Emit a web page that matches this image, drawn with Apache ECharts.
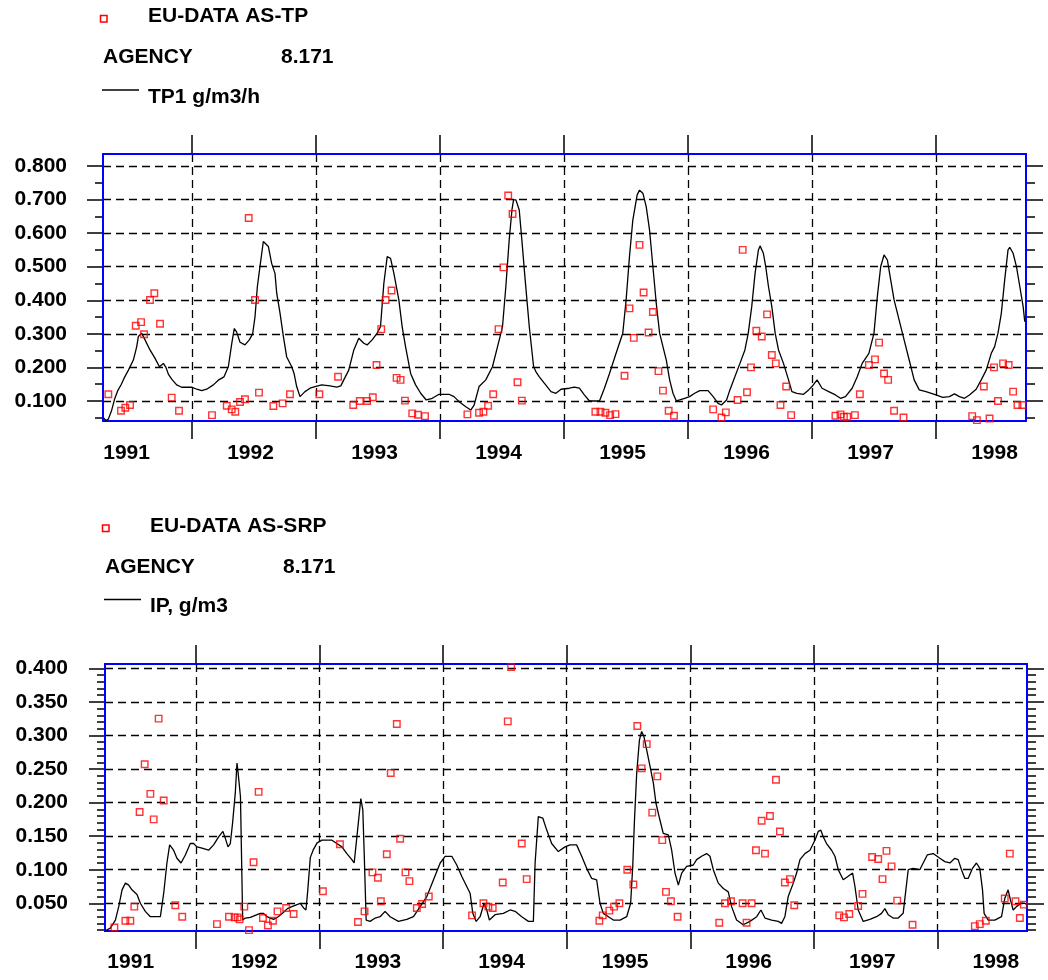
<!DOCTYPE html>
<html>
<head>
<meta charset="utf-8">
<script src="https://cdn.jsdelivr.net/npm/echarts@6/dist/echarts.min.js"></script>
<style>
html,body{margin:0;padding:0;background:#fff;}
#chart{width:1048px;height:980px;}
</style>
</head>
<body>
<div id="chart"></div>
<script>
// ---------- axis ticks / labels ----------
const yearTicks = [1992, 1993, 1994, 1995, 1996, 1997, 1998];
const yearLabelPos = [1991.472, 1992.472, 1993.472, 1994.472, 1995.472, 1996.472, 1997.472, 1998.472];
const tpMajor = [0.1, 0.2, 0.3, 0.4, 0.5, 0.6, 0.7, 0.8];
const tpMinor = [0.05, 0.15, 0.25, 0.35, 0.45, 0.55, 0.65, 0.75];
const ipMajor = [0.05, 0.10, 0.15, 0.20, 0.25, 0.30, 0.35, 0.40];
const ipMinor = [0.01, 0.02, 0.03, 0.04, 0.06, 0.07, 0.08, 0.09, 0.11, 0.12, 0.13, 0.14,
  0.16, 0.17, 0.18, 0.19, 0.21, 0.22, 0.23, 0.24, 0.26, 0.27, 0.28, 0.29,
  0.31, 0.32, 0.33, 0.34, 0.36, 0.37, 0.38, 0.39];

// ---------- series: TP (top panel) ----------
const tpModel = [
  [1991.285,0.050],[1991.305,0.042],[1991.325,0.046],[1991.350,0.070],[1991.375,0.105],[1991.400,0.130],
  [1991.430,0.150],[1991.452,0.168],[1991.487,0.192],[1991.527,0.222],[1991.554,0.262],[1991.567,0.292],
  [1991.594,0.302],[1991.621,0.282],[1991.661,0.252],[1991.702,0.227],[1991.737,0.202],[1991.769,0.212],
  [1991.790,0.200],[1991.809,0.180],[1991.836,0.165],[1991.876,0.148],[1991.917,0.141],[1991.997,0.141],
  [1992.038,0.135],[1992.078,0.131],[1992.118,0.135],[1992.172,0.148],[1992.212,0.162],[1992.258,0.172],
  [1992.293,0.202],[1992.320,0.270],[1992.341,0.316],[1992.360,0.305],[1992.387,0.275],[1992.427,0.267],
  [1992.462,0.282],[1992.489,0.300],[1992.508,0.351],[1992.527,0.441],[1992.548,0.500],[1992.575,0.575],
  [1992.589,0.580],[1992.616,0.560],[1992.642,0.510],[1992.669,0.480],[1992.683,0.421],[1992.710,0.361],
  [1992.737,0.292],[1992.763,0.232],[1992.804,0.202],[1992.823,0.182],[1992.844,0.143],[1992.871,0.113],
  [1992.911,0.128],[1992.952,0.138],[1992.992,0.143],[1993.046,0.148],[1993.113,0.145],[1993.167,0.141],
  [1993.200,0.145],[1993.224,0.163],[1993.264,0.192],[1993.305,0.252],[1993.345,0.287],[1993.385,0.272],
  [1993.412,0.267],[1993.453,0.282],[1993.493,0.302],[1993.520,0.321],[1993.547,0.450],[1993.574,0.530],
  [1993.601,0.525],[1993.628,0.480],[1993.668,0.401],[1993.695,0.321],[1993.722,0.262],[1993.763,0.182],
  [1993.803,0.148],[1993.844,0.123],[1993.889,0.103],[1993.938,0.108],[1993.992,0.120],[1994.073,0.120],
  [1994.113,0.113],[1994.154,0.098],[1994.208,0.083],[1994.248,0.073],[1994.275,0.088],[1994.315,0.143],
  [1994.369,0.163],[1994.423,0.202],[1994.464,0.262],[1994.504,0.321],[1994.531,0.441],[1994.558,0.580],
  [1994.580,0.669],[1994.593,0.699],[1994.612,0.699],[1994.639,0.669],[1994.660,0.580],[1994.687,0.460],
  [1994.720,0.321],[1994.755,0.202],[1994.774,0.187],[1994.801,0.172],[1994.841,0.153],[1994.895,0.128],
  [1994.935,0.123],[1994.976,0.135],[1995.043,0.138],[1995.084,0.141],[1995.124,0.138],[1995.164,0.118],
  [1995.205,0.100],[1995.245,0.100],[1995.286,0.100],[1995.326,0.138],[1995.367,0.182],[1995.420,0.242],
  [1995.474,0.302],[1995.501,0.401],[1995.528,0.530],[1995.555,0.639],[1995.590,0.714],[1995.609,0.728],
  [1995.636,0.719],[1995.663,0.679],[1995.690,0.609],[1995.717,0.500],[1995.744,0.391],[1995.771,0.302],
  [1995.798,0.262],[1995.825,0.222],[1995.852,0.163],[1995.879,0.123],[1995.906,0.100],[1995.933,0.103],
  [1995.973,0.108],[1996.013,0.113],[1996.054,0.123],[1996.095,0.131],[1996.162,0.131],[1996.203,0.113],
  [1996.243,0.093],[1996.270,0.088],[1996.311,0.103],[1996.338,0.133],[1996.378,0.172],[1996.419,0.212],
  [1996.459,0.252],[1996.486,0.302],[1996.514,0.381],[1996.541,0.480],[1996.568,0.550],[1996.581,0.562],
  [1996.608,0.540],[1996.627,0.500],[1996.649,0.441],[1996.676,0.381],[1996.703,0.302],[1996.730,0.252],
  [1996.770,0.212],[1996.811,0.163],[1996.838,0.128],[1996.878,0.123],[1996.932,0.120],[1996.973,0.133],
  [1997.000,0.143],[1997.041,0.163],[1997.081,0.138],[1997.135,0.128],[1997.189,0.118],[1997.230,0.108],
  [1997.270,0.113],[1997.324,0.138],[1997.365,0.172],[1997.405,0.212],[1997.459,0.242],[1997.500,0.302],
  [1997.527,0.411],[1997.554,0.500],[1997.581,0.535],[1997.608,0.520],[1997.635,0.460],[1997.662,0.401],
  [1997.703,0.341],[1997.743,0.282],[1997.784,0.222],[1997.824,0.163],[1997.865,0.133],[1997.919,0.128],
  [1998.000,0.118],[1998.054,0.111],[1998.108,0.113],[1998.149,0.121],[1998.189,0.113],[1998.230,0.108],
  [1998.270,0.118],[1998.324,0.135],[1998.365,0.163],[1998.405,0.192],[1998.446,0.242],[1998.473,0.262],
  [1998.500,0.302],[1998.527,0.361],[1998.554,0.460],[1998.581,0.550],[1998.595,0.558],[1998.622,0.540],
  [1998.649,0.500],[1998.676,0.441],[1998.703,0.381],[1998.716,0.336]
];
const tpObs = [
  [1991.325,0.120],[1991.427,0.071],[1991.462,0.080],[1991.500,0.088],[1991.546,0.324],[1991.589,0.335],
  [1991.613,0.299],[1991.661,0.401],[1991.696,0.421],[1991.742,0.330],[1991.836,0.110],[1991.895,0.071],
  [1992.161,0.058],[1992.280,0.086],[1992.320,0.075],[1992.349,0.068],[1992.387,0.097],[1992.427,0.105],
  [1992.457,0.645],[1992.508,0.401],[1992.540,0.125],[1992.656,0.085],[1992.731,0.093],[1992.790,0.120],
  [1993.027,0.120],[1993.178,0.172],[1993.300,0.088],[1993.353,0.100],[1993.412,0.100],[1993.458,0.111],
  [1993.488,0.207],[1993.526,0.314],[1993.561,0.401],[1993.609,0.429],[1993.650,0.169],[1993.682,0.163],
  [1993.717,0.101],[1993.776,0.063],[1993.822,0.059],[1993.879,0.055],[1994.221,0.060],[1994.315,0.065],
  [1994.350,0.068],[1994.388,0.086],[1994.429,0.120],[1994.472,0.314],[1994.512,0.498],[1994.550,0.712],
  [1994.585,0.657],[1994.625,0.156],[1994.660,0.101],[1995.253,0.068],[1995.294,0.068],[1995.334,0.065],
  [1995.372,0.058],[1995.415,0.061],[1995.488,0.175],[1995.528,0.376],[1995.563,0.288],[1995.609,0.565],
  [1995.642,0.423],[1995.682,0.304],[1995.717,0.365],[1995.762,0.189],[1995.798,0.131],[1995.844,0.071],
  [1995.887,0.056],[1996.203,0.075],[1996.270,0.051],[1996.305,0.066],[1996.400,0.103],[1996.441,0.550],
  [1996.476,0.126],[1996.508,0.200],[1996.551,0.309],[1996.595,0.292],[1996.638,0.358],[1996.676,0.237],
  [1996.708,0.212],[1996.746,0.088],[1996.792,0.143],[1996.832,0.058],[1997.189,0.056],[1997.230,0.060],
  [1997.257,0.053],[1997.284,0.053],[1997.346,0.058],[1997.386,0.120],[1997.459,0.207],[1997.508,0.224],
  [1997.541,0.274],[1997.581,0.182],[1997.614,0.163],[1997.662,0.071],[1997.738,0.051],[1998.292,0.055],
  [1998.330,0.043],[1998.386,0.143],[1998.432,0.048],[1998.468,0.200],[1998.500,0.100],[1998.541,0.212],
  [1998.586,0.207],[1998.622,0.128],[1998.657,0.088],[1998.697,0.088]
];

// ---------- series: IP / SRP (bottom panel) ----------
const ipModel = [
  [1991.267,0.009],[1991.307,0.013],[1991.348,0.025],[1991.375,0.045],[1991.402,0.070],[1991.429,0.080],
  [1991.456,0.077],[1991.482,0.070],[1991.523,0.063],[1991.550,0.050],[1991.590,0.038],[1991.631,0.030],
  [1991.671,0.030],[1991.712,0.030],[1991.739,0.065],[1991.765,0.110],[1991.787,0.137],[1991.819,0.129],
  [1991.846,0.117],[1991.879,0.110],[1991.914,0.122],[1991.954,0.139],[1991.981,0.139],[1992.008,0.134],
  [1992.049,0.132],[1992.102,0.129],[1992.143,0.137],[1992.183,0.149],[1992.218,0.157],[1992.237,0.147],
  [1992.259,0.134],[1992.278,0.139],[1992.296,0.169],[1992.318,0.214],[1992.332,0.259],[1992.340,0.246],
  [1992.360,0.209],[1992.378,0.025],[1992.399,0.028],[1992.440,0.029],[1992.480,0.032],[1992.520,0.035],
  [1992.547,0.035],[1992.574,0.030],[1992.601,0.028],[1992.628,0.026],[1992.665,0.030],[1992.700,0.035],
  [1992.740,0.042],[1992.776,0.045],[1992.817,0.048],[1992.844,0.050],[1992.871,0.043],[1992.890,0.040],
  [1992.905,0.070],[1992.925,0.118],[1992.950,0.130],[1992.980,0.140],[1993.020,0.144],[1993.060,0.144],
  [1993.100,0.144],[1993.140,0.139],[1993.181,0.134],[1993.221,0.124],[1993.261,0.115],[1993.280,0.110],
  [1993.302,0.149],[1993.334,0.206],[1993.350,0.189],[1993.362,0.120],[1993.377,0.025],[1993.409,0.023],
  [1993.450,0.028],[1993.490,0.030],[1993.530,0.038],[1993.571,0.030],[1993.638,0.023],[1993.706,0.026],
  [1993.760,0.030],[1993.814,0.045],[1993.868,0.060],[1993.922,0.085],[1993.976,0.110],[1994.016,0.120],
  [1994.070,0.120],[1994.110,0.107],[1994.151,0.090],[1994.191,0.075],[1994.218,0.065],[1994.240,0.035],
  [1994.267,0.023],[1994.299,0.030],[1994.331,0.050],[1994.353,0.040],[1994.374,0.025],[1994.420,0.033],
  [1994.487,0.035],[1994.542,0.040],[1994.582,0.038],[1994.636,0.030],[1994.690,0.023],[1994.730,0.023],
  [1994.744,0.110],[1994.770,0.179],[1994.806,0.177],[1994.838,0.159],[1994.878,0.139],[1994.932,0.127],
  [1994.986,0.134],[1995.027,0.137],[1995.080,0.137],[1995.121,0.120],[1995.161,0.102],[1995.202,0.087],
  [1995.242,0.085],[1995.269,0.050],[1995.296,0.035],[1995.337,0.030],[1995.377,0.025],[1995.431,0.025],
  [1995.485,0.030],[1995.517,0.050],[1995.534,0.105],[1995.547,0.169],[1995.566,0.244],[1995.588,0.293],
  [1995.606,0.306],[1995.625,0.298],[1995.647,0.278],[1995.674,0.254],[1995.701,0.229],[1995.722,0.199],
  [1995.754,0.174],[1995.781,0.154],[1995.822,0.152],[1995.849,0.129],[1995.876,0.095],[1995.903,0.077],
  [1995.930,0.095],[1995.970,0.105],[1996.024,0.107],[1996.051,0.115],[1996.091,0.120],[1996.132,0.124],
  [1996.159,0.120],[1996.186,0.100],[1996.226,0.080],[1996.267,0.072],[1996.307,0.067],[1996.334,0.045],
  [1996.374,0.025],[1996.428,0.018],[1996.482,0.023],[1996.537,0.030],[1996.571,0.040],[1996.604,0.028],
  [1996.658,0.025],[1996.712,0.023],[1996.738,0.020],[1996.765,0.030],[1996.792,0.060],[1996.833,0.080],
  [1996.860,0.095],[1996.887,0.115],[1996.927,0.124],[1996.968,0.129],[1997.008,0.144],[1997.035,0.157],
  [1997.056,0.159],[1997.075,0.149],[1997.102,0.139],[1997.143,0.129],[1997.170,0.120],[1997.197,0.100],
  [1997.237,0.085],[1997.275,0.090],[1997.313,0.095],[1997.332,0.075],[1997.358,0.040],[1997.399,0.023],
  [1997.453,0.026],[1997.507,0.030],[1997.547,0.035],[1997.574,0.042],[1997.601,0.033],[1997.641,0.028],
  [1997.682,0.028],[1997.722,0.035],[1997.744,0.070],[1997.763,0.100],[1997.803,0.102],[1997.857,0.100],
  [1997.884,0.110],[1997.917,0.122],[1997.965,0.124],[1998.019,0.117],[1998.059,0.112],[1998.100,0.110],
  [1998.140,0.117],[1998.167,0.115],[1998.194,0.100],[1998.221,0.087],[1998.248,0.087],[1998.283,0.102],
  [1998.315,0.110],[1998.342,0.102],[1998.364,0.070],[1998.377,0.035],[1998.410,0.025],[1998.463,0.025],
  [1998.518,0.030],[1998.544,0.057],[1998.571,0.070],[1998.590,0.055],[1998.612,0.040],[1998.639,0.045],
  [1998.674,0.050],[1998.706,0.050],[1998.722,0.048]
];
const ipObs = [
  [1991.340,0.014],[1991.429,0.024],[1991.469,0.024],[1991.501,0.045],[1991.544,0.186],[1991.585,0.257],
  [1991.631,0.213],[1991.658,0.175],[1991.698,0.325],[1991.739,0.203],[1991.833,0.047],[1991.889,0.030],
  [1992.170,0.019],[1992.267,0.030],[1992.313,0.029],[1992.337,0.029],[1992.353,0.026],[1992.391,0.045],
  [1992.429,0.010],[1992.466,0.111],[1992.507,0.216],[1992.542,0.028],[1992.582,0.017],[1992.623,0.024],
  [1992.660,0.038],[1992.730,0.043],[1992.790,0.034],[1993.027,0.068],[1993.165,0.138],[1993.311,0.022],
  [1993.364,0.038],[1993.428,0.096],[1993.472,0.088],[1993.496,0.053],[1993.544,0.123],[1993.576,0.244],
  [1993.625,0.317],[1993.652,0.146],[1993.695,0.096],[1993.727,0.083],[1993.787,0.043],[1993.830,0.049],
  [1993.884,0.060],[1994.234,0.032],[1994.326,0.050],[1994.366,0.045],[1994.401,0.043],[1994.482,0.081],
  [1994.523,0.321],[1994.550,0.402],[1994.636,0.139],[1994.676,0.086],[1995.264,0.024],[1995.291,0.032],
  [1995.345,0.039],[1995.383,0.045],[1995.426,0.050],[1995.490,0.100],[1995.539,0.078],[1995.571,0.314],
  [1995.606,0.251],[1995.647,0.287],[1995.692,0.185],[1995.733,0.239],[1995.773,0.144],[1995.803,0.067],
  [1995.843,0.053],[1995.897,0.030],[1996.234,0.021],[1996.280,0.050],[1996.329,0.053],[1996.423,0.050],
  [1996.455,0.021],[1996.496,0.050],[1996.531,0.129],[1996.577,0.173],[1996.604,0.124],[1996.644,0.180],
  [1996.693,0.234],[1996.725,0.157],[1996.765,0.081],[1996.806,0.086],[1996.841,0.047],[1997.205,0.032],
  [1997.243,0.029],[1997.286,0.034],[1997.358,0.046],[1997.393,0.064],[1997.471,0.119],[1997.520,0.116],
  [1997.555,0.086],[1997.587,0.128],[1997.628,0.105],[1997.674,0.054],[1997.798,0.018],[1998.302,0.016],
  [1998.342,0.019],[1998.391,0.024],[1998.544,0.057],[1998.585,0.124],[1998.631,0.053],[1998.666,0.028],
  [1998.698,0.048]
];

// ---------- chart ----------
const FONT = 'Liberation Sans';
const labelFont = {color: '#000', fontFamily: FONT, fontWeight: 'bold', fontSize: 21};
const tickStyle = {color: '#000', width: 1.5};
const dashStyle = {color: '#000', width: 1.3, type: [8, 5]};

function xAxesFor(gi, min, max, margin) {
  return [
    {
      gridIndex: gi, type: 'value', position: 'bottom', min: min, max: max, splitNumber: 7,
      axisLine: {show: false},
      axisTick: {show: true, customValues: yearTicks, length: 18, lineStyle: tickStyle},
      axisLabel: Object.assign({show: true, customValues: yearLabelPos, margin: margin, verticalAlign: 'middle',
        formatter: v => String(Math.floor(v))}, labelFont),
      splitLine: {show: true, lineStyle: dashStyle}
    },
    {
      gridIndex: gi, type: 'value', position: 'top', min: min, max: max, splitNumber: 7,
      axisLine: {show: false},
      axisTick: {show: true, customValues: yearTicks, length: 19, lineStyle: tickStyle},
      axisLabel: {show: false},
      splitLine: {show: false}
    }
  ];
}
function yAxesFor(gi, min, max, major, minor, margin) {
  const base = {gridIndex: gi, type: 'value', min: min, max: max, splitNumber: 8,
    axisLine: {show: false}, splitLine: {show: false}, axisLabel: {show: false}};
  return [
    Object.assign({}, base, {position: 'left',
      axisTick: {show: true, customValues: major, length: 16, lineStyle: tickStyle},
      axisLabel: Object.assign({show: true, customValues: major, margin: margin,
        formatter: v => v.toFixed(3)}, labelFont),
      splitLine: {show: true, lineStyle: dashStyle}}),
    Object.assign({}, base, {position: 'left',
      axisTick: {show: true, customValues: minor, length: 8, lineStyle: tickStyle}}),
    Object.assign({}, base, {position: 'right',
      axisTick: {show: true, customValues: major, length: 17, lineStyle: tickStyle}}),
    Object.assign({}, base, {position: 'right',
      axisTick: {show: true, customValues: minor, length: 9, lineStyle: tickStyle}})
  ];
}

const txtStyle = t => ({text: t, font: 'bold 21px "Liberation Sans"', fill: '#000', align: 'left', verticalAlign: 'middle'});
function legendBlock(dx, dy, obsName, modelName) {
  return [
    {type: 'rect', shape: {x: 100.5 + dx, y: 15.5 + dy, width: 6.5, height: 6.5},
      style: {fill: 'rgba(0,0,0,0)', stroke: '#ff0000', lineWidth: 1.5}},
    {type: 'text', x: 148 + dx, y: 16.5 + dy, style: txtStyle(obsName)},
    {type: 'text', x: 103 + dx, y: 57.5 + dy, style: txtStyle('AGENCY')},
    {type: 'text', x: 281 + dx, y: 57.5 + dy, style: txtStyle('8.171')},
    {type: 'line', shape: {x1: 102 + dx, y1: 90 + dy, x2: 139 + dx, y2: 90 + dy},
      style: {stroke: '#000', lineWidth: 1.5}},
    {type: 'text', x: 148 + dx, y: 97 + dy, style: txtStyle(modelName)}
  ];
}

const chart = echarts.init(document.getElementById('chart'), null, {renderer: 'canvas'});
const obsItem = {color: 'rgba(0,0,0,0)', borderColor: '#ff0000', borderWidth: 1.4};
chart.setOption({
  animation: false,
  backgroundColor: '#ffffff',
  grid: [
    {left: 103, top: 154, width: 923, height: 267, show: true, z: 1,
      backgroundColor: 'rgba(0,0,0,0)', borderColor: '#0000ff', borderWidth: 2},
    {left: 105, top: 664, width: 922, height: 267, show: true, z: 1,
      backgroundColor: 'rgba(0,0,0,0)', borderColor: '#0000ff', borderWidth: 2}
  ],
  xAxis: [].concat(xAxesFor(0, 1991.282, 1998.726, 32), xAxesFor(1, 1991.264, 1998.724, 31)),
  yAxis: [].concat(yAxesFor(0, 0.0404, 0.8357, tpMajor, tpMinor, 36),
                   yAxesFor(1, 0.0087, 0.4064, ipMajor, ipMinor, 37)),
  graphic: [].concat(legendBlock(0, 0, 'EU-DATA AS-TP', 'TP1 g/m3/h'),
                     legendBlock(2, 509.5, 'EU-DATA AS-SRP', 'IP, g/m3')),
  series: [
    {type: 'line', xAxisIndex: 0, yAxisIndex: 0, data: tpModel, symbol: 'none', showSymbol: false,
      lineStyle: {color: '#000', width: 1.3}, z: 3, silent: true},
    {type: 'scatter', xAxisIndex: 0, yAxisIndex: 0, data: tpObs, symbol: 'rect', symbolSize: 6.5,
      itemStyle: obsItem, z: 4, silent: true},
    {type: 'line', xAxisIndex: 2, yAxisIndex: 4, data: ipModel, symbol: 'none', showSymbol: false,
      lineStyle: {color: '#000', width: 1.3}, z: 3, silent: true},
    {type: 'scatter', xAxisIndex: 2, yAxisIndex: 4, data: ipObs, symbol: 'rect', symbolSize: 6.5,
      itemStyle: obsItem, z: 4, silent: true}
  ]
});
</script>
</body>
</html>
